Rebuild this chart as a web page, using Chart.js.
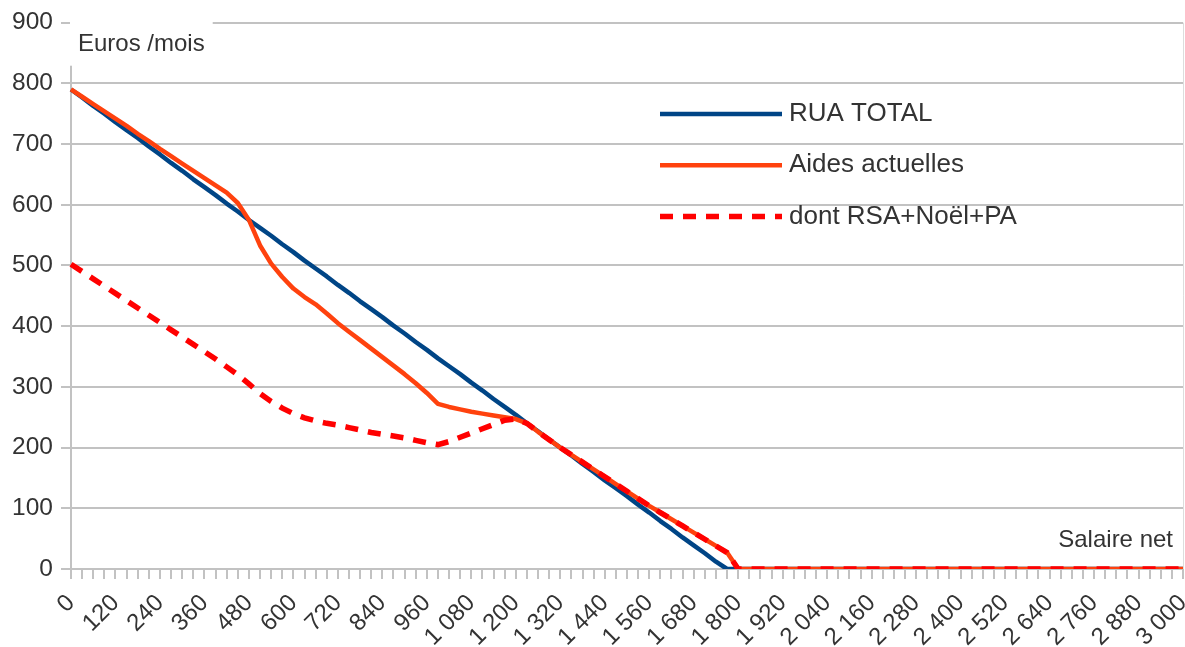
<!DOCTYPE html>
<html>
<head>
<meta charset="utf-8">
<script src="https://cdn.jsdelivr.net/npm/chart.js@4/dist/chart.umd.min.js"></script>
<style>
html,body{margin:0;padding:0;background:#fff;}
#wrap{width:1185px;height:647px;position:relative;}
</style>
</head>
<body>
<div id="wrap"><canvas id="c" width="1185" height="647"></canvas></div>
<script>
// ---- Data ----
const salaires = [0,30,60,90,120,150,180,210,240,270,300,330,360,390,420,450,480,510,540,570,600,630,660,690,720,750,780,810,840,870,900,930,960,990,1020,1050,1080,1110,1140,1170,1200,1230,1260,1290,1320,1350,1380,1410,1440,1470,1500,1530,1560,1590,1620,1650,1680,1710,1740,1770,1800,1830,1860,1890,1920,1950,1980,2010,2040,2070,2100,2130,2160,2190,2220,2250,2280,2310,2340,2370,2400,2430,2460,2490,2520,2550,2580,2610,2640,2670,2700,2730,2760,2790,2820,2850,2880,2910,2940,2970,3000];

const ruaTotal = [790,777,763,750,736,723,710,696,683,669,
  656,642,629,616,602,589,575,562,549,535,
  522,508,495,482,468,455,441,428,415,401,
  388,374,361,347,334,321,307,294,280,267,
  254,240,227,213,200,187,173,160,146,133,
  120,106,93,79,66,52,39,26,12,0,
  0,0,0,0,0,0,0,0,0,0,0,0,0,0,0,0,0,0,0,0,0,0,0,0,0,0,0,0,0,0,0,0,0,0,0,0,0,0,0,0,0];

const aidesActuelles = [790,778,766,754,742,730,717,705,692,680,
  668,656,644,632,620,603,575,533,503,481,
  462,448,436,421,405,391,377,363,349,335,
  321,306,290,272,267,263,259,256,253,250,
  247,240,226,213,200,188,176,164,152,140,
  128,116,104,93,82,71,60,49,38,27,
  0,0,0,0,0,0,0,0,0,0,0,0,0,0,0,0,0,0,0,0,0,0,0,0,0,0,0,0,0,0,0,0,0,0,0,0,0,0,0,0,0];

const dontRsaNoelPa = [502,490,478,466,454,442,430,418,406,394,
  382,370,358,346,333,320,305,289,276,265,
  256,249,244,240,237,233,229,225,222,219,
  216,212,208,205,210,217,224,231,238,245,
  247,240,226,213,200,188,176,164,152,140,
  128,116,104,93,82,71,60,49,38,27,
  0,0,0,0,0,0,0,0,0,0,0,0,0,0,0,0,0,0,0,0,0,0,0,0,0,0,0,0,0,0,0,0,0,0,0,0,0,0,0,0,0];

const seriesNames = ['RUA TOTAL', 'Aides actuelles', 'dont RSA+Noël+PA'];
const xTickValues = [0,120,240,360,480,600,720,840,960,1080,1200,1320,1440,1560,1680,1800,1920,2040,2160,2280,2400,2520,2640,2760,2880,3000];
const xTickTexts = ['0','120','240','360','480','600','720','840','960','1\u00a0080','1\u00a0200','1\u00a0320','1\u00a0440','1\u00a0560','1\u00a0680','1\u00a0800','1\u00a0920','2\u00a0040','2\u00a0160','2\u00a0280','2\u00a0400','2\u00a0520','2\u00a0640','2\u00a0760','2\u00a0880','3\u00a0000'];
const yTickValues = [0,100,200,300,400,500,600,700,800,900];
const yTitle = 'Euros /mois';
const xTitle = 'Salaire net';

// ---- Styling ----
const FONT = '"Liberation Sans", Arial, sans-serif';
const TEXT = '#333333';
const GRID = '#c2c2c2';

const overlay = {
  id: 'overlay',
  beforeDatasetsDraw(chart) {
    const {ctx, chartArea: a} = chart;
    ctx.save();
    ctx.strokeStyle = '#dddddd';
    ctx.lineWidth = 1;
    ctx.beginPath();
    ctx.moveTo(a.right + 0.5, a.top);
    ctx.lineTo(a.right + 0.5, a.bottom);
    ctx.stroke();
    ctx.restore();
  },
  afterDraw(chart, args, opts) {
    const {ctx, chartArea: a} = chart;
    ctx.save();
    ctx.font = '24px ' + FONT;
    ctx.textBaseline = 'middle';
    // y axis title box
    const tw = ctx.measureText(yTitle).width;
    ctx.fillStyle = '#ffffff';
    ctx.fillRect(a.left - 1, a.top - 3, tw + 16, 46);
    ctx.fillStyle = TEXT;
    ctx.textAlign = 'left';
    ctx.fillText(yTitle, a.left + 7, a.top + 22);
    // x axis title
    ctx.textAlign = 'right';
    ctx.fillText(xTitle, a.right - 10, a.bottom - 29);
    // legend
    const L = opts.legend;
    ctx.font = L.size + 'px ' + FONT;
    chart.data.datasets.forEach((ds, i) => {
      const y = L.y + i * L.dy;
      ctx.strokeStyle = ds.borderColor;
      ctx.lineWidth = ds.borderWidth;
      ctx.setLineDash(ds.borderDash || []);
      ctx.lineCap = 'butt';
      ctx.beginPath();
      ctx.moveTo(L.x, y);
      ctx.lineTo(L.x + L.len, y);
      ctx.stroke();
      ctx.setLineDash([]);
      ctx.fillStyle = TEXT;
      ctx.textAlign = 'left';
      ctx.fillText(ds.label, L.x + L.len + 7, y);
    });
    ctx.restore();
  }
};

new Chart(document.getElementById('c'), {
  type: 'line',
  data: {
    labels: salaires,
    datasets: [
      { label: seriesNames[0], data: ruaTotal, borderColor: '#004586', backgroundColor: '#004586',
        borderWidth: 4.5, pointRadius: 0, tension: 0, order: 3, borderJoinStyle: 'round' },
      { label: seriesNames[1], data: aidesActuelles, borderColor: '#ff420e', backgroundColor: '#ff420e',
        borderWidth: 4.5, pointRadius: 0, tension: 0, order: 2, borderJoinStyle: 'round' },
      { label: seriesNames[2], data: dontRsaNoelPa, borderColor: '#ff0000', backgroundColor: '#ff0000',
        borderWidth: 5.5, borderDash: [13, 10], pointRadius: 0, tension: 0, order: 1, borderCapStyle: 'butt' }
    ]
  },
  options: {
    responsive: false,
    animation: false,
    devicePixelRatio: 1,
    layout: { padding: { top: 22, right: 2, bottom: 0, left: 0 } },
    plugins: {
      legend: { display: false },
      tooltip: { enabled: false },
      overlay: { legend: { x: 660, y: 114, dy: 51.3, len: 122, size: 26 } }
    },
    scales: {
      x: {
        type: 'category',
        offset: false,
        grid: { drawOnChartArea: false, drawTicks: true, tickLength: 10, color: GRID, lineWidth: 2 },
        border: { color: GRID, width: 2 },
        ticks: {
          autoSkip: false, minRotation: 45, maxRotation: 45, padding: 10,
          color: TEXT, font: { family: FONT, size: 24 },
          callback: function(val, idx) {
            const k = xTickValues.indexOf(salaires[idx]);
            return k >= 0 ? xTickTexts[k] : '';
          }
        },
        afterFit: function(s) { s.height = 78; s.paddingLeft = 0; s.paddingRight = 0; }
      },
      y: {
        min: 0, max: 900,
        afterBuildTicks: function(s) { s.ticks = yTickValues.map(v => ({ value: v })); },
        grid: { color: GRID, lineWidth: 2, drawTicks: true, tickLength: 10 },
        border: { color: GRID, width: 2 },
        ticks: { padding: 8, color: TEXT, font: { family: FONT, size: 24.5 } },
        afterFit: function(s) { s.width = 71; }
      }
    }
  },
  plugins: [overlay]
});
</script>
</body>
</html>
